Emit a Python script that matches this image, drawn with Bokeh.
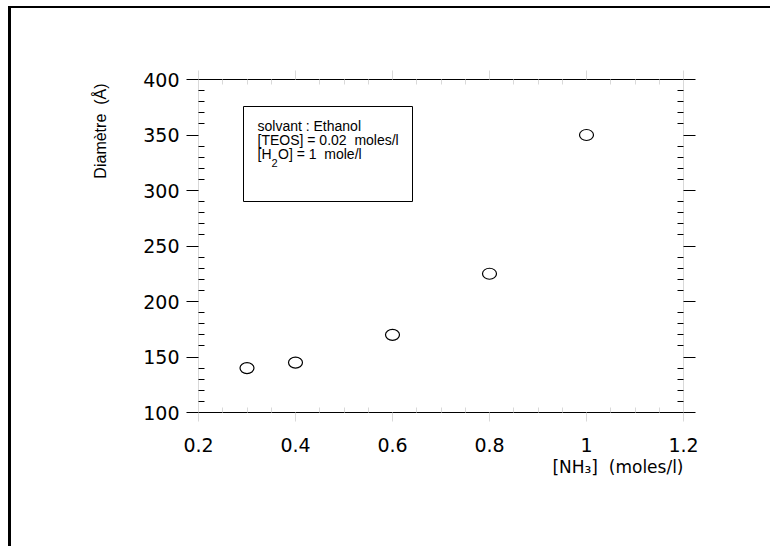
from bokeh.plotting import figure
from bokeh.models import LinearAxis, FixedTicker, Label, BoxAnnotation, Range1d, Title
from bokeh.embed import file_html
from bokeh.resources import INLINE

# ---- data ----
nh3 = [0.3, 0.4, 0.6, 0.8, 1.0]
diametre = [140, 145, 170, 225, 350]

x_ticks = [0.2, 0.4, 0.6, 0.8, 1.0, 1.2]
x_tick_labels = ["0.2", "0.4", "0.6", "0.8", "1", "1.2"]
x_minor = [0.25, 0.3, 0.35, 0.45, 0.5, 0.55, 0.65, 0.7, 0.75,
           0.85, 0.9, 0.95, 1.05, 1.1, 1.15]
y_ticks = [100, 150, 200, 250, 300, 350, 400]
y_tick_labels = ["100", "150", "200", "250", "300", "350", "400"]
y_minor = [110, 120, 130, 140, 160, 170, 180, 190, 210, 220, 230, 240,
           260, 270, 280, 290, 310, 320, 330, 340, 360, 370, 380, 390]

NB = "\u00a0"
x_title = "[NH\u2083]" + NB + " (moles/l)"
y_title = "Diamètre" + NB + " (Å)"
legend_line1 = "solvant : Ethanol"
legend_line2 = "[TEOS] = 0.02" + NB + " moles/l"
legend_line3a = "[H"
legend_line3b = "2"
legend_line3c = "O] = 1" + NB + " mole/l"

FAINT = "#d9d9d9"
TICK_FONT = "DejaVu Sans"

p = figure(width=762, height=540,
           x_range=Range1d(0.2, 1.2), y_range=Range1d(100, 400),
           output_backend="svg", toolbar_location=None,
           min_border_left=187, min_border_right=90,
           min_border_top=71, min_border_bottom=136)
p.styles = {"margin-left": "8px", "margin-top": "6px",
            "border-left": "3px solid black", "border-top": "2px solid black"}
p.outline_line_color = None
p.xgrid.visible = False
p.ygrid.visible = False
p.background_fill_color = "white"
p.border_fill_color = "white"

xt = FixedTicker(ticks=x_ticks, minor_ticks=x_minor)
yt = FixedTicker(ticks=y_ticks, minor_ticks=y_minor)


def style_x(ax, labels):
    ax.ticker = xt
    ax.axis_line_color = "black"
    ax.axis_line_width = 1
    ax.major_tick_line_color = FAINT
    ax.major_tick_out = 9
    ax.major_tick_in = 0
    ax.minor_tick_line_color = FAINT
    ax.minor_tick_in = 5
    ax.minor_tick_out = 0
    if labels:
        ax.major_label_overrides = dict(zip(x_ticks, x_tick_labels))
        ax.major_label_text_font = TICK_FONT
        ax.major_label_text_font_size = "19px"
        ax.major_label_text_color = "black"
        ax.major_label_standoff = 16
    else:
        ax.major_label_overrides = {t: "" for t in x_ticks}
        ax.major_label_text_font_size = "0px"


def style_y(ax, labels):
    ax.ticker = yt
    ax.axis_line_color = FAINT
    ax.axis_line_width = 1
    ax.major_tick_line_color = "black"
    ax.major_tick_out = 12
    ax.major_tick_in = 0
    ax.minor_tick_line_color = "black"
    ax.minor_tick_in = 6
    ax.minor_tick_out = 0
    if labels:
        ax.major_label_overrides = dict(zip(y_ticks, y_tick_labels))
        ax.major_label_text_font = TICK_FONT
        ax.major_label_text_font_size = "19px"
        ax.major_label_text_color = "black"
        ax.major_label_standoff = 7
    else:
        ax.major_label_overrides = {t: "" for t in y_ticks}
        ax.major_label_text_font_size = "0px"


style_x(p.xaxis[0], True)
style_y(p.yaxis[0], True)
top_ax = LinearAxis()
style_x(top_ax, False)
p.add_layout(top_ax, "above")
right_ax = LinearAxis()
style_y(right_ax, False)
p.add_layout(right_ax, "right")

# axis titles as side-panel titles
p.add_layout(Title(text=x_title, align="right", text_font="DejaVu Sans",
                   text_font_size="17px", text_font_style="normal",
                   text_color="black", standoff=0, offset=0), "below")
p.add_layout(Title(text=y_title, align="right", text_font="Liberation Sans",
                   text_font_size="16px", text_font_style="normal",
                   text_color="black", standoff=63, offset=4), "left")

# data points: open (slightly wide) circles
p.ellipse(x=nh3, y=diametre, width=14, height=11,
          width_units="screen", height_units="screen",
          fill_color="white", line_color="black", line_width=1.2)

# legend box (screen units relative to frame, y upward from frame bottom)
box = BoxAnnotation(left=45, right=214, top=306, bottom=211,
                    left_units="screen", right_units="screen",
                    top_units="screen", bottom_units="screen",
                    fill_color="white", fill_alpha=1.0,
                    line_color="black", line_width=1, line_alpha=1.0)
p.add_layout(box)

LF = "Liberation Sans"
def lab(text, x, y, size, font=LF, **kw):
    p.add_layout(Label(x=x, y=y, x_units="screen", y_units="screen",
                       text=text, text_font=font, text_font_size=size,
                       text_color="black", **kw))

lab(legend_line1, 59, 279, "14px")
lab(legend_line2, 59, 265, "14px")
lab(legend_line3a, 59, 251, "14px")
lab(legend_line3b, 73, 246, "11px")
lab(legend_line3c, 79.5, 251, "14px")

open("out.html", "w").write(file_html(p, INLINE))
